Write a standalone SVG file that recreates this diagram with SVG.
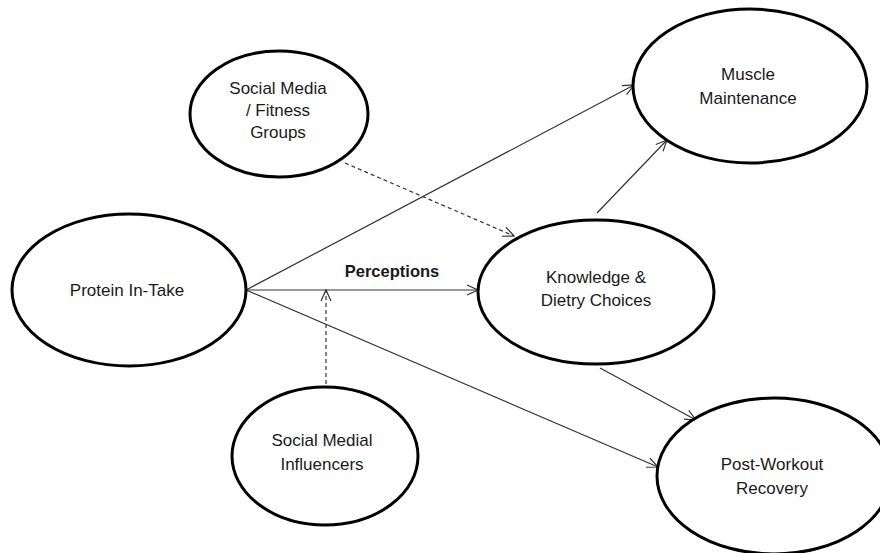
<svg xmlns="http://www.w3.org/2000/svg" width="880" height="553" viewBox="0 0 880 553">
<style>
.node ellipse{fill:#fff;stroke:#000;stroke-width:3}
.node text{font-family:"Liberation Sans",Arial,sans-serif;font-size:17px;fill:#1a1a1a;text-anchor:middle}
.edge{stroke:#333;stroke-width:1.2;fill:none;marker-end:url(#arr)}
.dash{stroke-dasharray:4 3}
.lbl{font-family:"Liberation Sans",Arial,sans-serif;font-size:16.5px;font-weight:bold;fill:#1a1a1a;text-anchor:middle}
</style>
<defs>
<marker id="arr" markerUnits="userSpaceOnUse" markerWidth="14" markerHeight="12" refX="12" refY="6" orient="auto" viewBox="0 0 14 12">
<path d="M1,1 L12,6 L1,11" fill="none" stroke="#333" stroke-width="1.2"/>
</marker>
</defs>
<rect width="880" height="553" fill="#fff"/>
<g id="connectors">
<line class="edge" x1="246" y1="290" x2="634" y2="85"/>
<line class="edge" x1="246" y1="290" x2="478" y2="290"/>
<line class="edge" x1="246" y1="290" x2="658" y2="467"/>
<line class="edge" x1="597" y1="213" x2="667" y2="140"/>
<line class="edge" x1="600" y1="368" x2="696" y2="420"/>
<line class="edge dash" x1="345" y1="163" x2="514" y2="236"/>
<line class="edge dash" x1="326" y1="384" x2="326" y2="290"/>
<text class="lbl" x="392" y="277">Perceptions</text>
</g>
<g id="social-media" class="node">
<ellipse cx="279" cy="114" rx="89" ry="63"/>
<text x="278" y="94">Social Media</text>
<text x="278" y="116">/ Fitness</text>
<text x="278" y="138">Groups</text>
</g>
<g id="protein" class="node">
<ellipse cx="129" cy="290" rx="117" ry="76"/>
<text x="127" y="296">Protein In-Take</text>
</g>
<g id="knowledge" class="node">
<ellipse cx="596" cy="292" rx="118" ry="72"/>
<text x="596" y="283">Knowledge &amp;</text>
<text x="596" y="306">Dietry Choices</text>
</g>
<g id="muscle" class="node">
<ellipse cx="750" cy="86" rx="117" ry="77"/>
<text x="748" y="80">Muscle</text>
<text x="748" y="104">Maintenance</text>
</g>
<g id="recovery" class="node">
<ellipse cx="774" cy="476" rx="117" ry="78"/>
<text x="772" y="470">Post-Workout</text>
<text x="772" y="494">Recovery</text>
</g>
<g id="influencers" class="node">
<ellipse cx="325" cy="456" rx="93" ry="69"/>
<text x="322" y="446">Social Medial</text>
<text x="322" y="470">Influencers</text>
</g>
</svg>
